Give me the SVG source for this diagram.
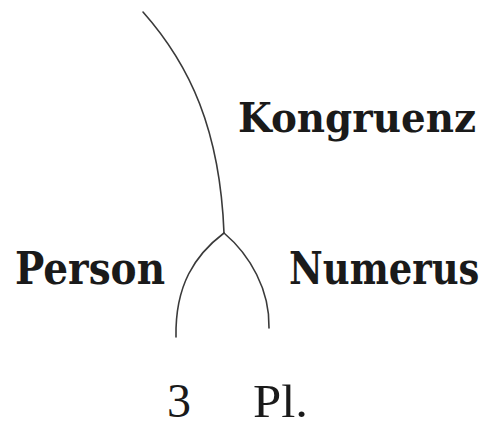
<svg xmlns="http://www.w3.org/2000/svg" width="489" height="426" viewBox="0 0 489 426">
<style>
.lbl{font-family:"DejaVu Serif","Liberation Serif",serif;font-weight:bold;fill:#1a1a1a;}
.leaf{font-family:"Liberation Serif","DejaVu Serif",serif;fill:#1a1a1a;}
.edge{fill:none;stroke:#3a3a3a;stroke-width:1.6;stroke-linecap:round;}
</style>
<rect width="489" height="426" fill="#ffffff"/>
<g id="connectors">
<path class="edge" d="M143,12 C190,65 220,130 224,233"/>
<path class="edge" d="M224,233 C195,255 175,285 176,337"/>
<path class="edge" d="M224,233 C250,255 270,290 269,328"/>
</g>
<g id="kongruenz"><text class="lbl" x="238" y="132" font-size="41" textLength="238" lengthAdjust="spacingAndGlyphs">Kongruenz</text></g>
<g id="person"><text class="lbl" x="15" y="284" font-size="44" textLength="150" lengthAdjust="spacingAndGlyphs">Person</text></g>
<g id="numerus"><text class="lbl" transform="translate(289,284) scale(0.84,1)" x="0" y="0" font-size="44">Numerus</text></g>
<g id="leaf-3"><text class="leaf" x="167" y="417" font-size="48">3</text></g>
<g id="leaf-pl"><text class="leaf" x="253" y="417" font-size="46" textLength="55" lengthAdjust="spacingAndGlyphs">Pl.</text></g>
</svg>
